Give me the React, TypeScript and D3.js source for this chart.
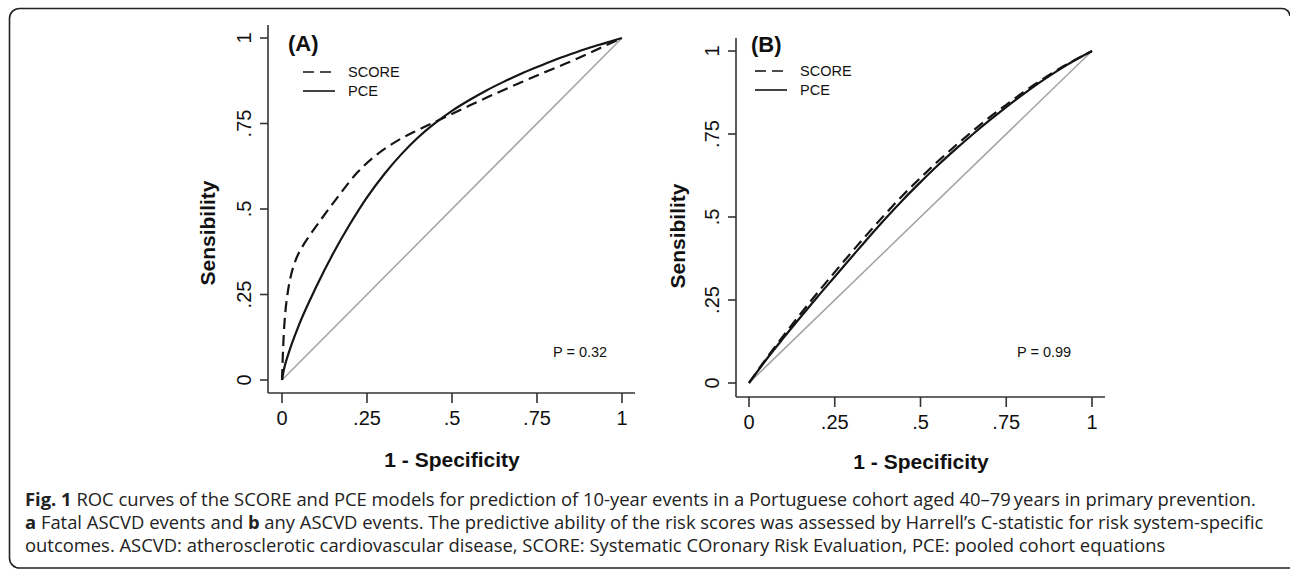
import React from "react";
import * as d3 from "d3";

// ---------- data ----------
const tickValues = [0, 0.25, 0.5, 0.75, 1];
const tickLabels = ["0", ".25", ".5", ".75", "1"];

const seriesNames = ["SCORE", "PCE"];

// Panel A (fatal ASCVD events)
const scoreA_fpr = [0, 0.002, 0.005, 0.01, 0.016, 0.025, 0.04, 0.06, 0.09, 0.13, 0.17, 0.22, 0.28, 0.34, 0.4, 0.47, 0.54, 0.62, 0.7, 0.78, 0.86, 0.93, 1];
const scoreA_tpr = [0, 0.06, 0.13, 0.2, 0.25, 0.3, 0.35, 0.39, 0.435, 0.49, 0.543, 0.605, 0.66, 0.7, 0.731, 0.764, 0.797, 0.834, 0.869, 0.903, 0.936, 0.968, 1];
const pceA_fpr = [0, 0.005, 0.02, 0.05, 0.1, 0.15, 0.2, 0.25, 0.3, 0.35, 0.4, 0.45, 0.5, 0.55, 0.6, 0.65, 0.7, 0.75, 0.8, 0.85, 0.9, 0.95, 1];
const pceA_tpr = [0, 0.028, 0.08, 0.161, 0.271, 0.369, 0.456, 0.534, 0.601, 0.659, 0.709, 0.751, 0.787, 0.818, 0.846, 0.871, 0.894, 0.915, 0.935, 0.953, 0.97, 0.985, 1];

// Panel B (any ASCVD events)
const fprB = [0, 0.05, 0.1, 0.15, 0.2, 0.25, 0.3, 0.35, 0.4, 0.45, 0.5, 0.55, 0.6, 0.65, 0.7, 0.75, 0.8, 0.85, 0.9, 0.95, 1];
const scoreB_tpr = [0, 0.073, 0.142, 0.208, 0.272, 0.334, 0.395, 0.454, 0.512, 0.567, 0.618, 0.667, 0.713, 0.757, 0.799, 0.838, 0.876, 0.911, 0.944, 0.973, 1];
const pceB_tpr = [0, 0.07, 0.135, 0.198, 0.26, 0.32, 0.38, 0.44, 0.498, 0.553, 0.605, 0.655, 0.702, 0.747, 0.79, 0.831, 0.87, 0.907, 0.941, 0.972, 1];

const panelLabels = ["(A)", "(B)"];
const pValues = ["P = 0.32", "P = 0.99"];
const xTitle = "1 - Specificity";
const yTitle = "Sensibility";

const captionLines = [
  [
    { t: "Fig. 1", b: true },
    { t: " ROC curves of the SCORE and PCE models for prediction of 10-year events in a Portuguese cohort aged 40\u201379\u2009years in primary prevention.", b: false },
  ],
  [
    { t: "a", b: true },
    { t: " Fatal ASCVD events and ", b: false },
    { t: "b", b: true },
    { t: " any ASCVD events. The predictive ability of the risk scores was assessed by Harrell\u2019s C-statistic for risk system-specific", b: false },
  ],
  [
    { t: "outcomes. ASCVD: atherosclerotic cardiovascular disease, SCORE: Systematic COronary Risk Evaluation, PCE: pooled cohort equations", b: false },
  ],
];

// ---------- layout ----------
const panels = [
  {
    x0: 282, x1: 622, y0: 380, y1: 38, axisX: 268, axisY: 393, yTop: 25, xRight: 635,
    legX0: 303, legX1: 335, legText: 348, legY: [72, 91],
    labelX: 288, labelY: 51, pX: 553, pY: 357,
    xTitleX: 452, xTitleY: 467, yTitleX: 215, yTitleY: 233,
    series: [
      { fpr: scoreA_fpr, tpr: scoreA_tpr, dash: "11,6" },
      { fpr: pceA_fpr, tpr: pceA_tpr, dash: null },
    ],
  },
  {
    x0: 749, x1: 1092, y0: 383, y1: 51, axisX: 736, axisY: 397, yTop: 38, xRight: 1105,
    legX0: 755, legX1: 787, legText: 800, legY: [71, 90],
    labelX: 751, labelY: 52, pX: 1017, pY: 357,
    xTitleX: 921, xTitleY: 469, yTitleX: 685, yTitleY: 236,
    series: [
      { fpr: fprB, tpr: scoreB_tpr, dash: "11,6" },
      { fpr: fprB, tpr: pceB_tpr, dash: null },
    ],
  },
];

const AX = "#333";
const CURVE = "#151515";
const FONT = "'Liberation Sans', Arial, Helvetica, sans-serif";

function Panel({ p, i }: { p: any; i: number }) {
  const x = d3.scaleLinear().domain([0, 1]).range([p.x0, p.x1]);
  const y = d3.scaleLinear().domain([0, 1]).range([p.y0, p.y1]);
  const line = d3
    .line<[number, number]>()
    .x((d) => x(d[0]))
    .y((d) => y(d[1]))
    .curve(d3.curveMonotoneX);

  return (
    <g>
      <path d={line([[0, 0], [1, 1]]) || ""} stroke="#a3a3a3" strokeWidth={1.5} fill="none" />
      {p.series.map((s: any, k: number) => (
        <path
          key={k}
          d={line(s.fpr.map((f: number, j: number) => [f, s.tpr[j]])) || ""}
          stroke={CURVE}
          strokeWidth={2.2}
          fill="none"
          strokeDasharray={s.dash || undefined}
        />
      ))}
      <line x1={p.axisX} x2={p.axisX} y1={p.yTop} y2={p.axisY} stroke={AX} strokeWidth={1.6} />
      <line x1={p.axisX} x2={p.xRight} y1={p.axisY} y2={p.axisY} stroke={AX} strokeWidth={1.6} />
      {tickValues.map((v, k) => (
        <g key={"y" + k}>
          <line x1={p.axisX - 8} x2={p.axisX} y1={y(v)} y2={y(v)} stroke={AX} strokeWidth={1.6} />
          <text
            transform={`translate(${p.axisX - 17},${y(v)}) rotate(-90)`}
            textAnchor="middle"
            fontFamily={FONT}
            fontSize={20}
            fill="#111"
          >
            {tickLabels[k]}
          </text>
        </g>
      ))}
      {tickValues.map((v, k) => (
        <g key={"x" + k}>
          <line x1={x(v)} x2={x(v)} y1={p.axisY} y2={p.axisY + 10} stroke={AX} strokeWidth={1.6} />
          <text x={x(v)} y={p.axisY + 32} textAnchor="middle" fontFamily={FONT} fontSize={20} fill="#111">
            {tickLabels[k]}
          </text>
        </g>
      ))}
      <text x={p.xTitleX} y={p.xTitleY} textAnchor="middle" fontFamily={FONT} fontWeight="bold" fontSize={21} fill="#111">
        {xTitle}
      </text>
      <text
        transform={`translate(${p.yTitleX},${p.yTitleY}) rotate(-90)`}
        textAnchor="middle"
        fontFamily={FONT}
        fontWeight="bold"
        fontSize={21}
        fill="#111"
      >
        {yTitle}
      </text>
      <text x={p.labelX} y={p.labelY} fontFamily={FONT} fontWeight="bold" fontSize={22} fill="#111">
        {panelLabels[i]}
      </text>
      {seriesNames.map((n, k) => (
        <g key={"l" + k}>
          <line
            x1={p.legX0}
            x2={p.legX1}
            y1={p.legY[k]}
            y2={p.legY[k]}
            stroke={CURVE}
            strokeWidth={1.6}
            strokeDasharray={p.series[k].dash || undefined}
          />
          <text x={p.legText} y={p.legY[k] + 5} fontFamily={FONT} fontSize={14.5} fill="#111">
            {n}
          </text>
        </g>
      ))}
      <text x={p.pX} y={p.pY} fontFamily={FONT} fontSize={14.5} fill="#111">
        {pValues[i]}
      </text>
    </g>
  );
}

export default function App() {
  const capY = [506, 529, 552];
  return (
    <svg
      width={1290}
      height={569}
      viewBox="0 0 1290 569"
      style={{ position: "absolute", left: 0, top: 0, background: "#fff" }}
    >
      <rect x={0} y={0} width={1290} height={569} fill="#fff" />
      <path
        d="M 1290 16 A 8 8 0 0 0 1282 8.5 H 19.5 A 10 10 0 0 0 9.5 18.5 V 558 A 10 10 0 0 0 19.5 568 H 1290"
        stroke="#222"
        strokeWidth={1.6}
        fill="none"
      />
      {panels.map((p, i) => (
        <Panel key={i} p={p} i={i} />
      ))}
      {captionLines.map((ln, k) => (
        <text key={k} x={25} y={capY[k]} fontFamily="'Open Sans', sans-serif" fontSize={18.4} fill="#222">
          {ln.map((s, j) => (
            <tspan key={j} fontWeight={s.b ? "bold" : "normal"}>
              {s.t}
            </tspan>
          ))}
        </text>
      ))}
    </svg>
  );
}
